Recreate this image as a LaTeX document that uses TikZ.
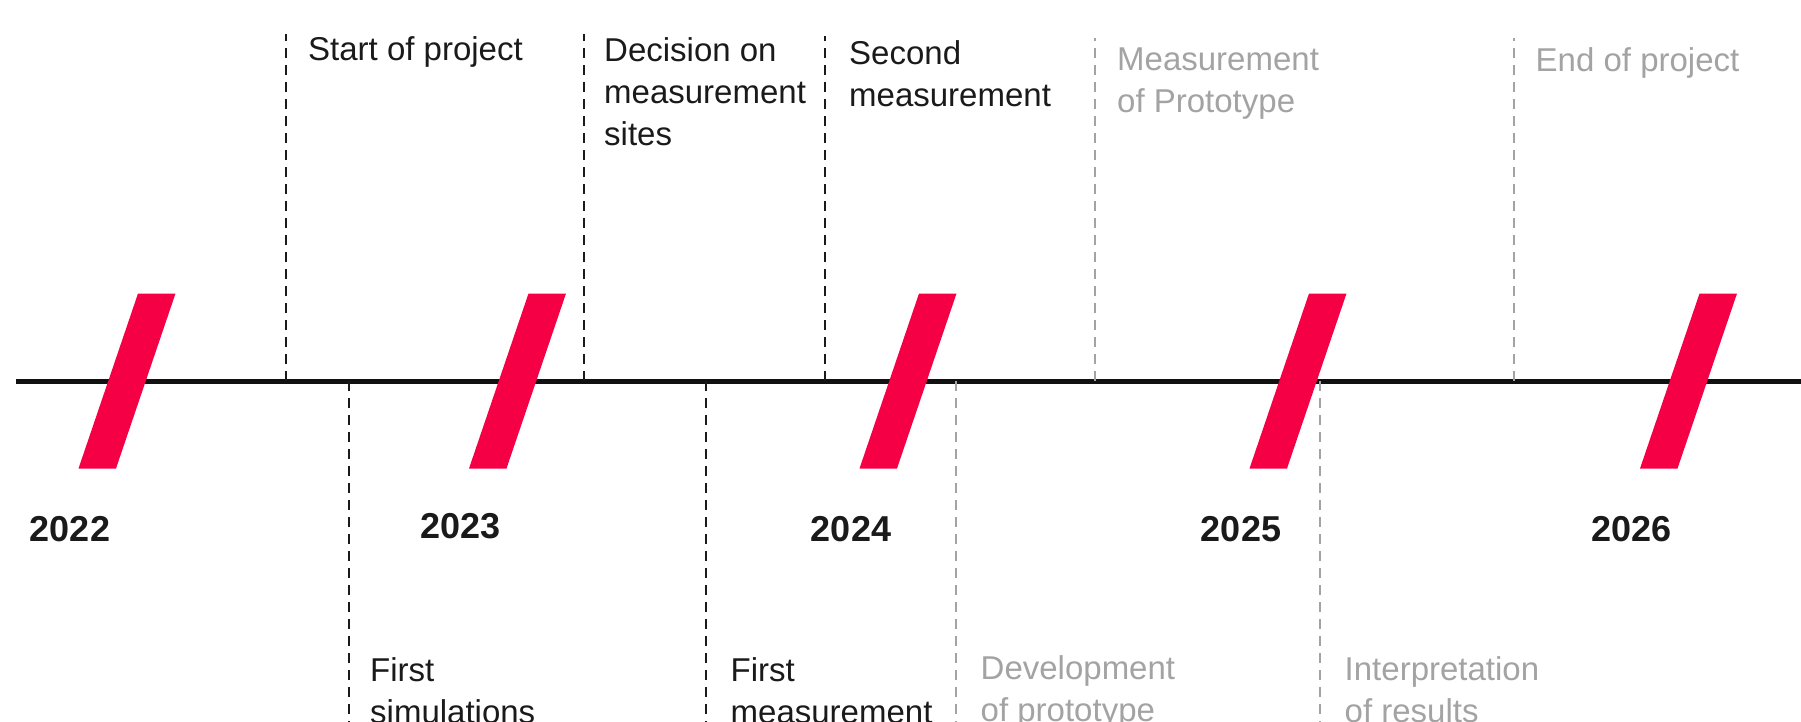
\documentclass[tikz,border=0pt]{standalone}
\usepackage{fontspec}
\setmainfont{Liberation Sans}
\usepackage{xcolor}
\definecolor{markred}{HTML}{F50045}
\definecolor{axisblack}{HTML}{111111}
\definecolor{textblack}{HTML}{1A1A1A}
\definecolor{plangray}{HTML}{A3A3A3}
\tikzset{
  slash/.style={fill=markred,minimum width=37.5pt,minimum height=175pt,inner sep=0pt,xslant=0.34,transform shape},
  year/.style={font=\fontsize{36}{42}\selectfont\bfseries,text=textblack,inner sep=0pt,anchor=base},
  done/.style={font=\fontsize{33}{42}\selectfont,text=textblack,inner sep=0pt,anchor=base west,align=left},
  todo/.style={done,text=plangray},
  donetick/.style={draw=textblack,line width=2pt,dash pattern=on 10pt off 7pt},
  todotick/.style={donetick,draw=plangray},
  axis/.style={draw=axisblack,line width=5pt}
}

\begin{document}
\begin{tikzpicture}[x=1pt,y=1pt]
\useasboundingbox (0,-340) rectangle (1801,381);
  % time axis
  \coordinate (axl) at (16,0);
  \coordinate (axr) at (1801,0);
  \draw[axis] (axl) -- (axr);

  % milestones above the axis (labels sit on their last line)
  \coordinate (start) at (286,0);
  \coordinate (starttop) at (286,347);
  \draw[donetick] (start) -- (starttop);
  \node[done] (startlbl) at (308,320.5) {Start of project};

  \coordinate (sites) at (583.5,0);
  \coordinate (sitestop) at (583.5,347);
  \draw[donetick] (sites) -- (sitestop);
  \node[done] (siteslbl) at (604,235.5) {Decision on\\measurement\\sites};

  \coordinate (second) at (824.5,0);
  \coordinate (secondtop) at (824.5,345);
  \draw[donetick] (second) -- (secondtop);
  \node[done] (secondlbl) at (849,274.5) {Second\\measurement};

  \coordinate (protomeas) at (1095,0);
  \coordinate (protomeastop) at (1095,343);
  \draw[todotick] (protomeas) -- (protomeastop);
  \node[todo] (protomeaslbl) at (1117,269) {Measurement\\of Prototype};

  \coordinate (end) at (1514,0);
  \coordinate (endtop) at (1514,343);
  \draw[todotick] (end) -- (endtop);
  \node[todo] (endlbl) at (1535.5,310) {End of project};

  % milestones below the axis
  \coordinate (sim) at (348.5,0);
  \coordinate (simbot) at (348.5,-345);
  \draw[donetick] (sim) -- (simbot);
  \node[done] (simlbl) at (370,-342) {First\\simulations};

  \coordinate (meas) at (706,0);
  \coordinate (measbot) at (706,-345);
  \draw[donetick] (meas) -- (measbot);
  \node[done] (measlbl) at (730.5,-342) {First\\measurement};

  \coordinate (dev) at (955.5,0);
  \coordinate (devbot) at (955.5,-345);
  \draw[todotick] (dev) -- (devbot);
  \node[todo] (devlbl) at (980.5,-340.5) {Development\\of prototype};

  \coordinate (interp) at (1319.5,0);
  \coordinate (interpbot) at (1319.5,-345);
  \draw[todotick] (interp) -- (interpbot);
  \node[todo] (interplbl) at (1344.5,-341.5) {Interpretation\\of results};

  % year marks
  \node[slash] (s2022) at (127,0) {};
  \node[slash] (s2023) at (517.5,0) {};
  \node[slash] (s2024) at (908,0) {};
  \node[slash] (s2025) at (1298,0) {};
  \node[slash] (s2026) at (1688.5,0) {};
  \node[year] (y2022) at ([xshift=-57pt,yshift=-160pt]s2022.center) {2022};
  \node[year] (y2023) at ([xshift=-57pt,yshift=-157pt]s2023.center) {2023};
  \node[year] (y2024) at ([xshift=-57pt,yshift=-160pt]s2024.center) {2024};
  \node[year] (y2025) at ([xshift=-57pt,yshift=-160pt]s2025.center) {2025};
  \node[year] (y2026) at ([xshift=-57pt,yshift=-160pt]s2026.center) {2026};
\end{tikzpicture}
\end{document}
